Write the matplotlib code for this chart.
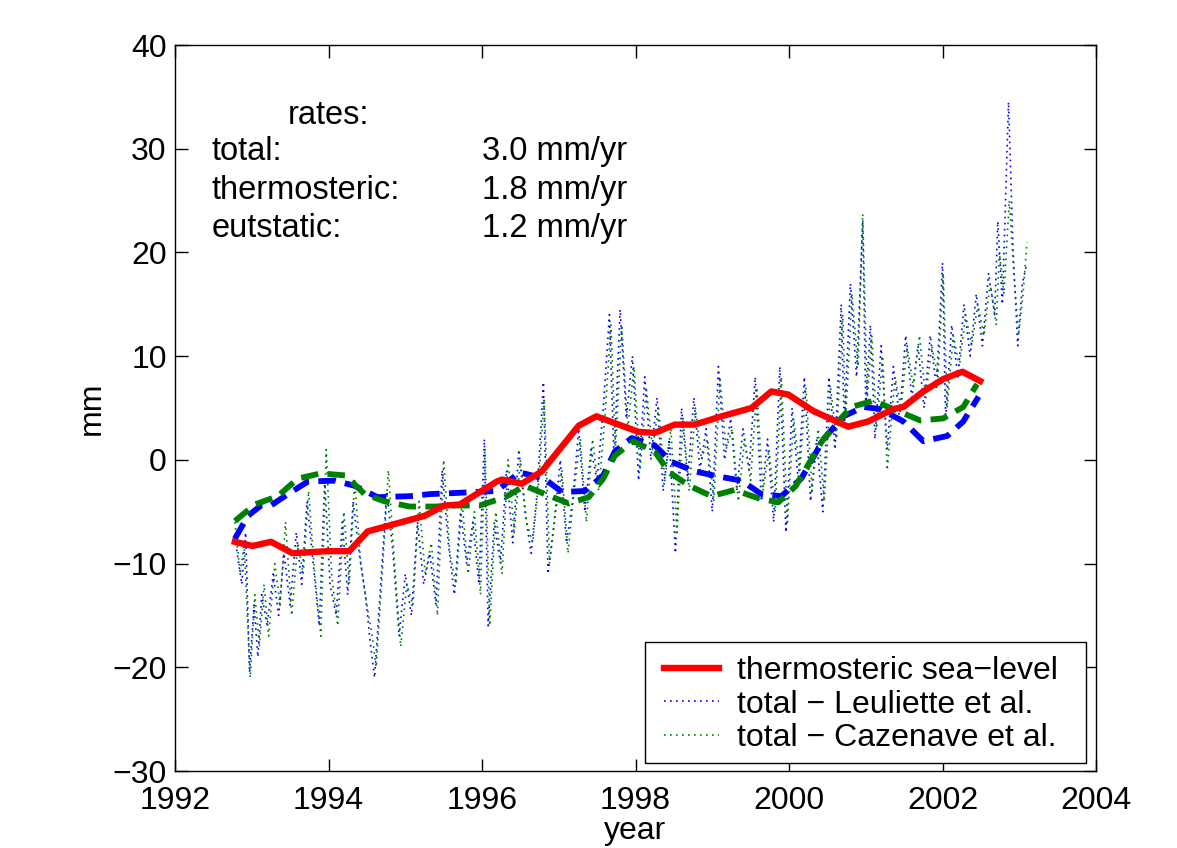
import matplotlib
matplotlib.use("Agg")
import matplotlib.pyplot as plt
from matplotlib.patches import Rectangle

plt.rcParams['font.family'] = ['Liberation Sans', 'DejaVu Sans']

# thermosteric sea level (red)
thermo_t = [1992.78, 1993.01, 1993.25, 1993.53, 1993.99, 1994.27, 1994.51, 1995.25, 1995.51,
            1995.71, 1996.19, 1996.26, 1996.52, 1996.78, 1997.26, 1997.49, 1998.04, 1998.25,
            1998.51, 1998.77, 1999.12, 1999.51, 1999.77, 1999.99, 2000.32, 2000.77, 2001.03,
            2001.36, 2001.49, 2001.75, 2002.01, 2002.26, 2002.49]
thermo_v = [-7.9, -8.3, -7.9, -9.0, -8.8, -8.8, -6.9, -5.4, -4.4,
            -4.3, -2.1, -1.9, -2.3, -1.1, 3.3, 4.2, 2.7, 2.6,
            3.4, 3.4, 4.2, 5.0, 6.6, 6.3, 4.7, 3.2, 3.7,
            4.9, 5.1, 6.6, 7.8, 8.5, 7.6]

# smoothed totals (dashed)
leul_s_t = [1992.78, 1992.95, 1993.12, 1993.25, 1993.47, 1993.73, 1994.08, 1994.34, 1994.64,
            1995.06, 1995.32, 1995.64, 1995.90, 1996.19, 1996.49, 1996.81, 1997.04, 1997.34,
            1997.58, 1997.73, 1997.95, 1998.25, 1998.47, 1998.77, 1999.08, 1999.38, 1999.64,
            1999.90, 2000.16, 2000.45, 2000.71, 2000.97, 2001.19, 2001.49, 2001.75, 2002.06,
            2002.27, 2002.47]
leul_s_v = [-7.6, -5.4, -4.4, -4.4, -3.3, -2.1, -2.0, -2.5, -3.6,
            -3.5, -3.3, -3.2, -3.1, -3.0, -1.2, -1.8, -3.1, -3.0,
            -1.5, 0.8, 2.1, 1.4, -0.2, -1.1, -1.6, -2.0, -3.3,
            -3.5, -1.8, 2.0, 4.2, 5.1, 4.9, 3.7, 1.8, 2.3,
            3.7, 6.1]

caz_s_t = [1992.78, 1993.04, 1993.34, 1993.60, 1993.90, 1994.22, 1994.47, 1994.73, 1995.06,
           1995.38, 1995.68, 1995.97, 1996.30, 1996.56, 1996.82, 1997.13, 1997.39, 1997.58,
           1997.73, 1997.97, 1998.25, 1998.44, 1998.70, 1998.99, 1999.29, 1999.60, 1999.86,
           2000.09, 2000.42, 2000.64, 2000.81, 2001.10, 2001.36, 2001.71, 2002.01, 2002.27,
           2002.45]
caz_s_v = [-5.9, -4.3, -3.5, -1.8, -1.3, -1.5, -3.3, -4.0, -4.5,
           -4.5, -4.4, -4.4, -3.6, -2.5, -3.3, -4.2, -3.6, -1.8,
           0.4, 1.8, 0.8, -1.2, -2.5, -3.5, -2.9, -3.7, -4.1,
           -2.5, 1.7, 3.7, 5.1, 5.7, 4.9, 3.8, 4.0, 5.1,
           7.3]

# raw totals (dotted)
leul_t = [1992.78, 1992.87, 1992.92, 1992.97, 1993.03, 1993.08, 1993.13, 1993.20, 1993.28, 1993.35,
          1993.42, 1993.50, 1993.58, 1993.65, 1993.72, 1993.80, 1993.88, 1993.95, 1994.02, 1994.10,
          1994.18, 1994.25, 1994.32, 1994.40, 1994.48, 1994.55, 1994.60, 1994.68, 1994.76, 1994.84,
          1994.92, 1995.00, 1995.08, 1995.16, 1995.24, 1995.32, 1995.40, 1995.48, 1995.56, 1995.64,
          1995.72, 1995.80, 1995.88, 1995.96, 1996.03, 1996.08, 1996.16, 1996.24, 1996.32, 1996.40,
          1996.48, 1996.56, 1996.64, 1996.72, 1996.80, 1996.86, 1996.94, 1997.02, 1997.10, 1997.18,
          1997.26, 1997.34, 1997.42, 1997.50, 1997.58, 1997.66, 1997.72, 1997.80, 1997.88, 1997.96,
          1998.04, 1998.12, 1998.20, 1998.28, 1998.36, 1998.44, 1998.52, 1998.60, 1998.68, 1998.76,
          1998.84, 1998.92, 1999.00, 1999.08, 1999.16, 1999.24, 1999.32, 1999.40, 1999.48, 1999.56,
          1999.64, 1999.72, 1999.80, 1999.88, 1999.96, 2000.04, 2000.12, 2000.20, 2000.28, 2000.36,
          2000.44, 2000.52, 2000.60, 2000.68, 2000.72, 2000.80, 2000.88, 2000.96, 2001.00, 2001.06,
          2001.12, 2001.20, 2001.28, 2001.36, 2001.44, 2001.52, 2001.60, 2001.68, 2001.76, 2001.84,
          2001.92, 2002.00, 2002.04, 2002.12, 2002.20, 2002.28, 2002.36, 2002.44, 2002.52, 2002.60,
          2002.68, 2002.72, 2002.78, 2002.86, 2002.92, 2002.98, 2003.04, 2003.10]
leul_v = [-7.5, -12, -7, -20.5, -14, -19, -13, -16, -11, -15,
          -9, -14, -7, -12, -4, -10, -16, -2, -12, -15,
          -6, -13, -4, -9, -13, -18, -21, -12, -3, -9,
          -17, -11, -15, -6, -12, -9, -14, -1, -8, -13,
          -5, -10, -6, -12, 2, -16, -6, -10, -1, -8,
          1, -5, -9, -3, 7.5, -11, -6, 0, -8, -4,
          3, -5, 1, -2, 5, 14, 0, 14.5, 4, 10,
          -2, 8, 0, 6, -3, 2, -9, 5, -2, 6,
          -1, 3, -5, 9, 0, 4, -3, 3, -1, 8,
          -4, 2, -6, 9, -7, 5, -2, 8, -4, 2,
          -5, 8, 1, 15, 3, 17, 8, 23, 5, 13,
          2, 11, 1, 9, 4, 12, 6, 11, 5, 12,
          7, 19, 4, 13, 8, 15, 10, 16, 11, 18,
          14, 23, 15, 34.5, 20, 11, 17, 19]

caz_t = [1992.78, 1992.85, 1992.90, 1992.98, 1993.04, 1993.10, 1993.16, 1993.22, 1993.30, 1993.37,
         1993.44, 1993.52, 1993.60, 1993.67, 1993.74, 1993.82, 1993.90, 1993.97, 1994.04, 1994.12,
         1994.20, 1994.27, 1994.34, 1994.42, 1994.50, 1994.57, 1994.62, 1994.70, 1994.78, 1994.86,
         1994.94, 1995.02, 1995.10, 1995.18, 1995.26, 1995.34, 1995.42, 1995.50, 1995.58, 1995.66,
         1995.74, 1995.82, 1995.90, 1995.98, 1996.04, 1996.10, 1996.18, 1996.26, 1996.34, 1996.42,
         1996.50, 1996.58, 1996.66, 1996.74, 1996.81, 1996.88, 1996.96, 1997.04, 1997.12, 1997.20,
         1997.28, 1997.36, 1997.44, 1997.52, 1997.60, 1997.68, 1997.74, 1997.82, 1997.90, 1997.98,
         1998.06, 1998.14, 1998.22, 1998.30, 1998.38, 1998.46, 1998.54, 1998.62, 1998.70, 1998.78,
         1998.86, 1998.94, 1999.02, 1999.10, 1999.18, 1999.26, 1999.34, 1999.42, 1999.50, 1999.58,
         1999.66, 1999.74, 1999.82, 1999.90, 1999.98, 2000.06, 2000.14, 2000.22, 2000.30, 2000.38,
         2000.46, 2000.54, 2000.62, 2000.70, 2000.74, 2000.82, 2000.90, 2000.96, 2001.02, 2001.08,
         2001.14, 2001.22, 2001.28, 2001.38, 2001.46, 2001.54, 2001.62, 2001.70, 2001.78, 2001.86,
         2001.94, 2002.01, 2002.06, 2002.14, 2002.22, 2002.30, 2002.38, 2002.46, 2002.54, 2002.62,
         2002.70, 2002.74, 2002.80, 2002.87, 2002.93, 2002.99, 2003.05, 2003.10]
caz_v = [-6, -11, -8, -21, -13, -18, -12, -17, -10, -14,
         -6, -15, -8, -11, -3, -11, -17, 1, -11, -16,
         -5, -12, -2, -10, -14, -17, -20, -11, -1, -10,
         -18, -12, -14, -4, -11, -8, -15, 0, -9, -12,
         -4, -11, -5, -13, 1, -16, -5, -11, 0, -7,
         0, -6, -8, -2, 6, -10, -5, -1, -9, -3,
         2, -6, 2, -3, 4, 13, 1, 13, 3, 9,
         -1, 7, 1, 5, -2, 3, -7, 4, -3, 5,
         0, 2, -4, 8, 1, 3, -4, 2, -2, 7,
         -3, 1, -5, 8, -6, 4, -1, 7, -3, 3,
         -4, 7, 2, 14, 4, 16, 9, 23.7, 6, 12,
         3, 10, -1, 8, 5, 11, 7, 12, 6, 11,
         8, 18, 5, 12, 9, 14, 11, 15, 12, 17,
         13, 20, 16, 25, 18, 12, 16, 21]

labels = ["thermosteric sea\u2212level", "total \u2212 Leuliette et al.", "total \u2212 Cazenave et al."]
xticks = [1992, 1994, 1996, 1998, 2000, 2002, 2004]
yticks = [-30, -20, -10, 0, 10, 20, 30, 40]

fig = plt.figure(figsize=(11.77, 8.48), dpi=100)
ax = fig.add_axes([0.1487, 0.0908, 0.7825, 0.8561])

l1, = ax.plot(thermo_t, thermo_v, color='#ff0000', lw=4.6, solid_joinstyle='round', zorder=5)
l2, = ax.plot(leul_t, leul_v, color='#0000ff', lw=1.2, linestyle=(0, (1, 2.6)), zorder=2)
l3, = ax.plot(caz_t, caz_v, color='#008000', lw=1.2, linestyle=(0, (1, 2.6)), zorder=3)
ax.plot(leul_s_t, leul_s_v, color='#0000ff', lw=4.2, linestyle=(0, (3, 1.6)), zorder=4)
ax.plot(caz_s_t, caz_s_v, color='#008000', lw=4.2, linestyle=(0, (3, 1.6)), zorder=4)

ax.set_xlim(1992, 2004)
ax.set_ylim(-30, 40)
ax.set_xticks(xticks)
ax.set_yticks(yticks)
ax.set_xticklabels([str(v) for v in xticks])
ax.set_yticklabels([str(v).replace('-', '\u2212') for v in yticks])
ax.tick_params(direction='in', length=9, width=1, top=True, right=True, labelsize=23)
ax.tick_params(axis='x', pad=11)
ax.tick_params(axis='y', pad=6)
for s in ax.spines.values():
    s.set_linewidth(1)
ax.set_xlabel('year', fontsize=23, labelpad=0)
ax.set_ylabel('mm', fontsize=23, labelpad=4)

fs = 23.5
ax.text(1993.47, 33.2, 'rates:', fontsize=fs, va='center', ha='left')
rows = [('total:', '3.0 mm/yr', 29.7), ('thermosteric:', '1.8 mm/yr', 26.0), ('eutstatic:', '1.2 mm/yr', 22.3)]
for name, val, yy in rows:
    ax.text(1992.48, yy, name, fontsize=fs, va='center', ha='left')
    ax.text(1996.0, yy, val, fontsize=fs, va='center', ha='left')

# legend box (drawn as a frame so padding can match the reference)
ax.add_patch(Rectangle((0.510, 0.011), 0.479, 0.167, transform=ax.transAxes,
                       facecolor='white', edgecolor='black', lw=1, zorder=6))
leg = ax.legend([l1, l2, l3], labels, loc='lower right', bbox_to_anchor=(0.969, 0.011),
                fontsize=23, frameon=False, handlelength=1.75, borderpad=0.3, labelspacing=0.12,
                handletextpad=0.55, borderaxespad=0)
leg.set_zorder(7)

fig.savefig('out.png', dpi=100)
